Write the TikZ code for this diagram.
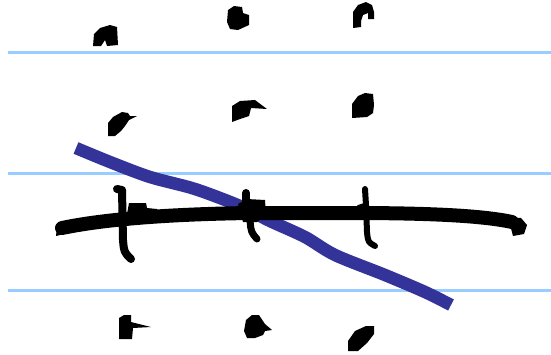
\documentclass[tikz,border=0pt]{standalone}
\usepackage{tikz}
\usetikzlibrary{calc}
\usepackage{xcolor}
\definecolor{ruleblue}{RGB}{153,204,255}
\definecolor{inkblue}{RGB}{51,51,153}

\tikzset{
    guide/.style={draw=ruleblue, line width=3},
    inkmark/.style={fill=black},
    inkline/.style={draw=black, line cap=round, line join=round},
    bluepen/.style={draw=inkblue, line width=12.5, line join=round}
}

\begin{document}
\begin{tikzpicture}[x=1pt, y=-1pt]
    \useasboundingbox (0,0) rectangle (551,354);

    % Ruled lines
    \foreach \y in {52,173,290} {
        \draw[guide] (8,\y) -- (551,\y);
    }

    % Top row of marks
    \fill[inkmark] (93,46) -- (94,34) -- (100,28) -- (110,25) -- (117,27) -- (118,45) -- (107,46) -- (105,40) -- (101,46) -- cycle;
    \fill[inkmark] (228,10) -- (234,6) -- (242,7) -- (243,13) -- (249,15) -- (249,25) -- (238,30) -- (230,29) -- (227,22) -- cycle;
    \fill[inkmark] (353,28) -- (353,12) -- (358,5) -- (366,2) -- (372,5) -- (374,12) -- (374,19) -- (368,19) -- (368,13) -- (363,15) -- (361,21) -- (361,27) -- cycle;

    % Second row of marks
    \fill[inkmark] (108,136) -- (108,123) -- (113,117) -- (122,112) -- (128,113) -- (130,116) -- (137,116) -- (129,120) -- (125,126) -- (121,131) -- (115,136) -- cycle;
    \fill[inkmark] (232,122) -- (232,106) -- (240,101) -- (255,100) -- (267,109) -- (251,108) -- (249,116) -- (240,119) -- cycle;
    \fill[inkmark] (352,118) -- (352,104) -- (358,96) -- (365,93) -- (373,94) -- (374,105) -- (373,113) -- (367,117) -- cycle;

    % Bottom row of marks
    \fill[inkmark] (119,339) -- (119,318) -- (124,315) -- (131,315) -- (131,322) -- (151,327) -- (133,328) -- (132,339) -- cycle;
    \fill[inkmark] (244,331) -- (246,320) -- (252,315) -- (259,315) -- (265,324) -- (272,330) -- (265,331) -- (263,335) -- (255,338) -- (247,338) -- cycle;
    \fill[inkmark] (348,351) -- (348,341) -- (355,331) -- (366,326) -- (374,326) -- (374,334) -- (367,343) -- (358,351) -- cycle;

    % Blue stroke
    \draw[bluepen] plot[smooth, tension=0.5] coordinates {(76,148) (110,162) (150,177) (195,189) (240,206) (270,221) (305,237) (335,255) (385,275) (425,292) (451,305)};

    % Long black stroke
    \draw[inkline, line width=14] (62,228) .. controls (110,218) and (180,214) .. (250,213) -- (350,213) .. controls (420,213) and (480,215) .. (512,222);
    \fill[inkmark] (508,217) -- (521,218) -- (527,225) -- (524,234) -- (513,236) -- cycle;
    \fill[inkmark] (56,236) -- (57,226) -- (64,222) -- (64,234) -- cycle;

    % Cross strokes
    \draw[inkline, line width=8] (117,189) -- (122,190) -- (123,240) .. controls (124,252) .. (131,259);
    \fill[inkmark] (127,214) -- (129,203) -- (146,203) -- (147,208) -- (157,209) -- (157,214) -- cycle;

    \draw[inkline, line width=8] (246,193) -- (246,205);
    \fill[inkmark] (238,204) -- (247,199) -- (265,200) -- (266,215) -- (257,222) -- (243,222) -- cycle;
    \draw[inkline, line width=7] (250,220) .. controls (251,232) .. (257,239);

    \draw[inkline, line width=6] (365,189) -- (366,205) -- (367,232) .. controls (368,242) .. (375,246);
    \fill[inkmark] (348,213) -- (358,205) -- (364,203) -- (364,216) -- cycle;
\end{tikzpicture}
\end{document}
